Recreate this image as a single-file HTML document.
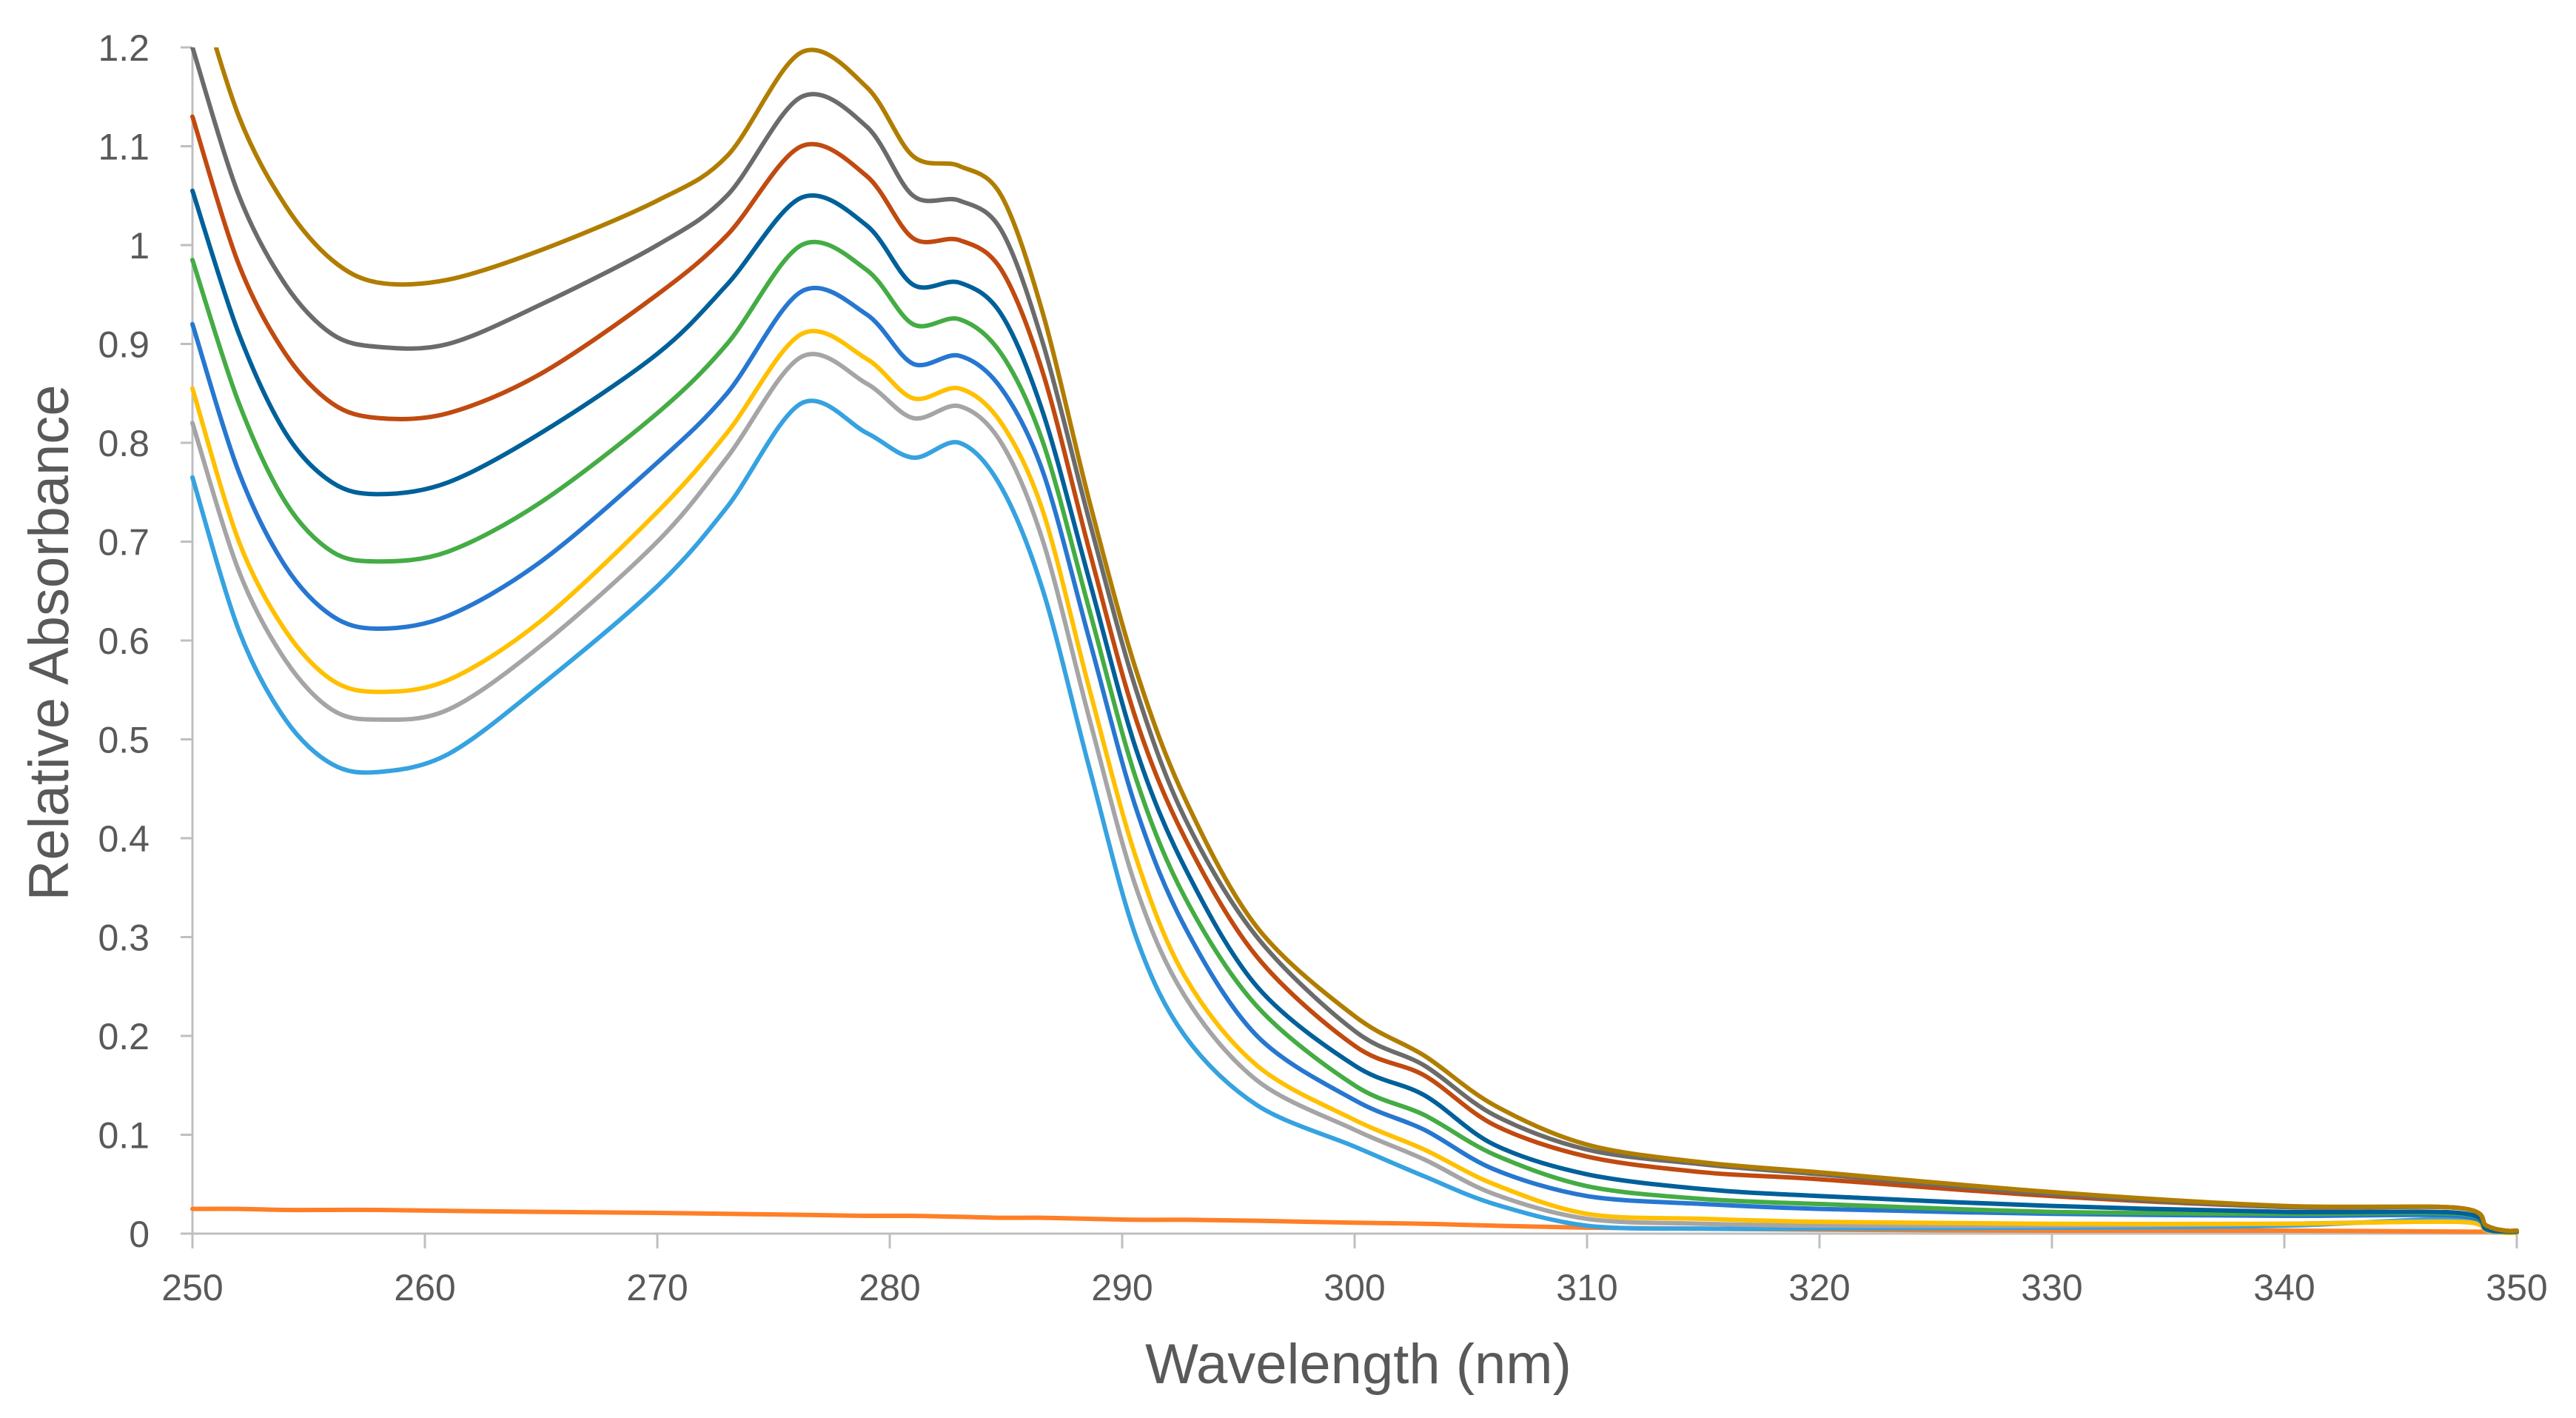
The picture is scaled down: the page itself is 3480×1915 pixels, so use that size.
<!DOCTYPE html>
<html><head><meta charset="utf-8"><style>
html,body{margin:0;padding:0;background:#fff;}
svg{display:block;}
text{font-family:"Liberation Sans",sans-serif;fill:#595959;}
</style></head><body>
<svg id="chart" width="3480" height="1915" viewBox="0 0 3480 1915">
<defs><clipPath id="plotclip"><rect x="255" y="64" width="3160" height="1620"/></clipPath></defs>
<g id="axes"></g>
<g id="series" clip-path="url(#plotclip)"></g>
<text x="1835" y="1868" font-size="76" text-anchor="middle">Wavelength (nm)</text>
<text x="0" y="0" font-size="76" text-anchor="middle" transform="translate(92,868) rotate(-90)">Relative Absorbance</text>
</svg>
<script>
const wavelengths=[250,252,254,256,258,261,265,270,273,276.2,279,281,283,284.8,286.6,288.6,290.6,292.7,295.8,300,303,306,310,315,320,330,340,347.5,348.7,349.5,350];
const sGold=[1.28,1.13,1.04,0.985,0.962,0.965,0.995,1.045,1.09,1.195,1.16,1.09,1.08,1.05,0.93,0.74,0.57,0.44,0.31,0.22,0.18,0.13,0.09,0.072,0.062,0.042,0.028,0.026,0.008,0.003,0.003];
const sGray=[1.20,1.05,0.96,0.91,0.897,0.90,0.94,1.0,1.05,1.15,1.12,1.05,1.045,1.015,0.90,0.72,0.55,0.42,0.30,0.205,0.17,0.12,0.085,0.07,0.06,0.04,0.027,0.026,0.008,0.003,0.003];
const sRed=[1.13,0.98,0.89,0.84,0.825,0.83,0.87,0.95,1.01,1.10,1.07,1.007,1.005,0.975,0.87,0.69,0.52,0.40,0.28,0.19,0.16,0.11,0.078,0.062,0.055,0.038,0.027,0.026,0.008,0.003,0.003];
const sDarkBlue=[1.055,0.91,0.81,0.76,0.748,0.76,0.81,0.89,0.96,1.048,1.02,0.96,0.962,0.93,0.83,0.66,0.49,0.37,0.25,0.17,0.14,0.09,0.06,0.045,0.038,0.028,0.022,0.021,0.005,0.002,0.002];
const sGreen=[0.985,0.84,0.74,0.69,0.68,0.69,0.74,0.83,0.90,1.0,0.975,0.92,0.925,0.89,0.80,0.63,0.46,0.34,0.23,0.15,0.12,0.08,0.048,0.035,0.03,0.022,0.02,0.02,0.005,0.002,0.002];
const sBlue=[0.92,0.77,0.675,0.625,0.612,0.625,0.68,0.78,0.85,0.953,0.93,0.88,0.888,0.855,0.77,0.60,0.43,0.31,0.20,0.135,0.105,0.065,0.038,0.03,0.025,0.02,0.018,0.018,0.004,0.002,0.002];
const sYellow=[0.855,0.70,0.61,0.56,0.548,0.56,0.62,0.73,0.81,0.91,0.885,0.845,0.855,0.82,0.73,0.55,0.38,0.26,0.17,0.115,0.085,0.05,0.02,0.015,0.012,0.01,0.01,0.012,0.003,0.001,0.001];
const sLightGray=[0.82,0.67,0.58,0.53,0.52,0.53,0.595,0.70,0.785,0.887,0.86,0.825,0.837,0.80,0.70,0.52,0.35,0.24,0.155,0.105,0.075,0.04,0.015,0.01,0.008,0.008,0.01,0.012,0.003,0.001,0.001];
const sLightBlue=[0.765,0.61,0.52,0.475,0.467,0.485,0.555,0.655,0.735,0.84,0.81,0.785,0.80,0.755,0.65,0.47,0.30,0.20,0.13,0.088,0.058,0.03,0.008,0.005,0.005,0.006,0.008,0.015,0.003,0.001,0.001];
const sBaseline=[0.025,0.025,0.024,0.024,0.024,0.023,0.022,0.021,0.02,0.019,0.018,0.018,0.017,0.016,0.016,0.015,0.014,0.014,0.013,0.011,0.01,0.008,0.006,0.005,0.004,0.003,0.003,0.002,0.002,0.002,0.002];
const yTicks=[0,0.1,0.2,0.3,0.4,0.5,0.6,0.7,0.8,0.9,1,1.1,1.2];
const yTickLabels=["0","0.1","0.2","0.3","0.4","0.5","0.6","0.7","0.8","0.9","1","1.1","1.2"];
const xTicks=[250,260,270,280,290,300,310,320,330,340,350];
const seriesList=[
 {name:"series-baseline",data:sBaseline,color:"#FF7F27"},
 {name:"series-light-blue",data:sLightBlue,color:"#36A2E0"},
 {name:"series-light-gray",data:sLightGray,color:"#A5A5A5"},
 {name:"series-yellow",data:sYellow,color:"#FFC000"},
 {name:"series-blue",data:sBlue,color:"#2777D0"},
 {name:"series-green",data:sGreen,color:"#44AC44"},
 {name:"series-dark-blue",data:sDarkBlue,color:"#00609A"},
 {name:"series-red",data:sRed,color:"#C04A10"},
 {name:"series-gray",data:sGray,color:"#6B6B6B"},
 {name:"series-gold",data:sGold,color:"#B07D00"}
];
const X0=260,X1=3400,Y0=1666,Y1=64;
function xs(v){return X0+(v-250)/100*(X1-X0);}
function ys(v){return Y0-v/1.2*(Y0-Y1);}
const NS="http://www.w3.org/2000/svg";
const axes=document.getElementById('axes');
function mk(tag,attrs,parent){const e=document.createElementNS(NS,tag);for(const k in attrs)e.setAttribute(k,attrs[k]);parent.appendChild(e);return e;}
let yl=mk('line',{x1:X0,y1:Y1,x2:X0,y2:Y0,stroke:'#BFBFBF','stroke-width':3},axes);


let xl=mk('line',{x1:X0-16,y1:Y0,x2:X1,y2:Y0,stroke:'#BFBFBF','stroke-width':3},axes);


yTicks.forEach((t,i)=>{
 const y=ys(t);
 let tk=mk('line',{x1:X0-16,y1:y,x2:X0,y2:y,stroke:'#BFBFBF','stroke-width':3},axes);
 
 
 let tx=mk('text',{x:202,y:y+18,'font-size':50,'text-anchor':'end'},axes);
 tx.textContent=yTickLabels[i];
 
 
});
xTicks.forEach(t=>{
 const x=xs(t);
 let tk=mk('line',{x1:x,y1:Y0,x2:x,y2:Y0+20,stroke:'#BFBFBF','stroke-width':3},axes);
 
 
 let tx=mk('text',{x:x,y:1756,'font-size':50,'text-anchor':'middle'},axes);
 tx.textContent=String(t);
 
 
});
function smoothPath(pts){
 let d='M'+pts[0][0].toFixed(1)+','+pts[0][1].toFixed(1);
 for(let i=0;i<pts.length-1;i++){
  const p0=pts[Math.max(0,i-1)],p1=pts[i],p2=pts[i+1],p3=pts[Math.min(pts.length-1,i+2)];
  const t=0.16;
  const c1=[p1[0]+(p2[0]-p0[0])*t,p1[1]+(p2[1]-p0[1])*t];
  const c2=[p2[0]-(p3[0]-p1[0])*t,p2[1]-(p3[1]-p1[1])*t];
  d+=' C'+c1[0].toFixed(1)+','+c1[1].toFixed(1)+' '+c2[0].toFixed(1)+','+c2[1].toFixed(1)+' '+p2[0].toFixed(1)+','+p2[1].toFixed(1);
 }
 return d;
}
const sg=document.getElementById('series');
seriesList.forEach(s=>{
 const pts=wavelengths.map((w,i)=>[xs(w),ys(s.data[i])]);
 let p=mk('path',{d:smoothPath(pts),fill:'none',stroke:s.color,'stroke-width':6,'stroke-linejoin':'round','stroke-linecap':'round'},sg);
 
 
});
</script>
</body></html>
